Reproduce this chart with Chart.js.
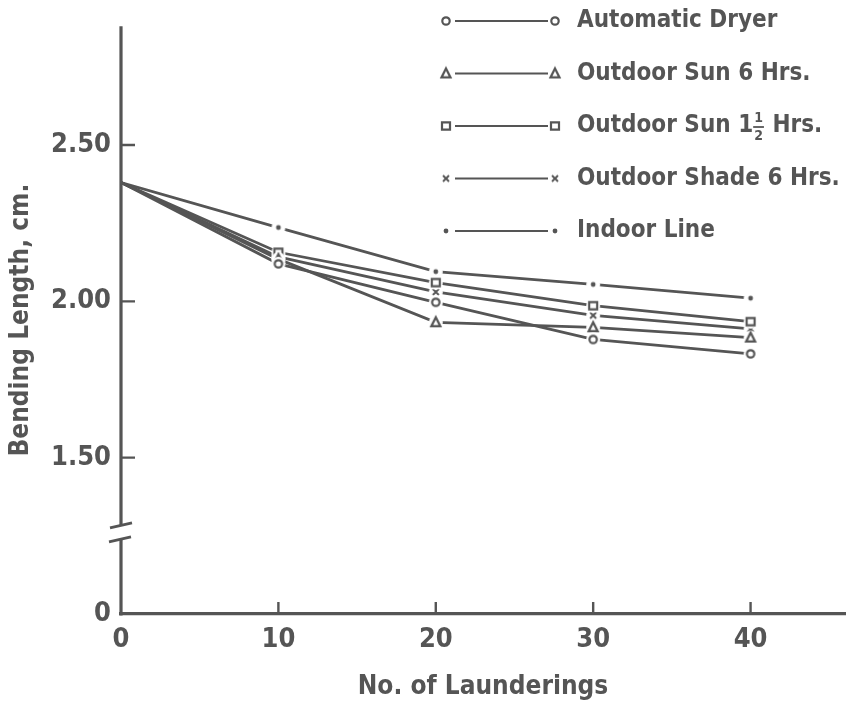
<!DOCTYPE html>
<html>
<head>
<meta charset="utf-8">
<title>Bending Length vs. Launderings</title>
<script src="https://cdn.jsdelivr.net/npm/chart.js@4/dist/chart.umd.min.js"></script>
<style>
  html, body { margin: 0; padding: 0; background: #fff; }
  #wrap { width: 853px; height: 703px; }
</style>
</head>
<body>
<div id="wrap"><canvas id="chart" width="853" height="703"></canvas></div>
<script>
// Number of launderings
const xValues = [0, 10, 20, 30, 40];

// Bending length (cm) for each drying method
const automaticDryer = [2.38, 2.12, 1.997, 1.878, 1.832];
const outdoorSun6 = [2.38, 2.135, 1.933, 1.917, 1.884];
const outdoorSun1half = [2.38, 2.157, 2.06, 1.986, 1.935];
const outdoorShade6 = [2.38, 2.142, 2.03, 1.955, 1.912];
const indoorLine = [2.38, 2.236, 2.095, 2.054, 2.01];

const seriesLabels = ['Automatic Dryer', 'Outdoor Sun 6 Hrs.', 'Outdoor Sun 1½ Hrs.', 'Outdoor Shade 6 Hrs.', 'Indoor Line'];
const seriesMarkers = ['circle', 'triangle', 'square', 'cross', 'dot'];

// Axis ticks; the lowest y tick sits at the broken-axis origin and reads 0
const xTickValues = [0, 10, 20, 30, 40];
const xTickLabels = ['0', '10', '20', '30', '40'];
const yTickValues = [1.0, 1.5, 2.0, 2.5];
const yTickLabels = ['0', '1.50', '2.00', '2.50'];
const yBreak = [1.24, 1.285];

const INK = '#555';
const FONT = "'DejaVu Sans Condensed', 'Liberation Sans Narrow', sans-serif";

// Marker sprites: a white halo so the connecting lines stop short of each symbol
function makeMarker(kind) {
  const c = document.createElement('canvas');
  c.width = 18; c.height = 18;
  const g = c.getContext('2d');
  g.fillStyle = '#fff';
  g.beginPath(); g.arc(9, 9, 7, 0, Math.PI * 2); g.fill();
  g.strokeStyle = INK; g.fillStyle = INK; g.lineWidth = 2.2;
  g.beginPath();
  if (kind === 'circle') {
    g.arc(9, 9, 3.7, 0, Math.PI * 2); g.stroke();
  } else if (kind === 'triangle') {
    g.moveTo(9, 4); g.lineTo(13.5, 12.9); g.lineTo(4.5, 12.9); g.closePath(); g.stroke();
  } else if (kind === 'square') {
    g.rect(5, 5.4, 8, 7.2); g.stroke();
  } else if (kind === 'cross') {
    g.lineWidth = 1.9;
    g.moveTo(6, 6); g.lineTo(12, 12); g.moveTo(12, 6); g.lineTo(6, 12); g.stroke();
  } else {
    g.arc(9, 9, 2.4, 0, Math.PI * 2); g.fill();
  }
  return c;
}

const allSeries = [automaticDryer, outdoorSun6, outdoorSun1half, outdoorShade6, indoorLine];
const markerImages = seriesMarkers.map(makeMarker);

const datasets = [];
allSeries.forEach((vals, i) => {
  const pts = xValues.map((x, j) => ({ x: x, y: vals[j] }));
  datasets.push({
    label: seriesLabels[i], data: pts, borderColor: INK, borderWidth: 2.8,
    pointRadius: 0, tension: 0, fill: false, order: 2
  });
  datasets.push({
    label: seriesLabels[i] + ' markers', data: pts, showLine: false,
    pointStyle: markerImages[i],
    pointRadius: (ctx) => (ctx.dataIndex === 0 ? 0 : 5),
    order: 1
  });
});

// Broken y axis, inward tick marks and the key
const decor = {
  id: 'decor',
  afterDraw(chart) {
    const ctx = chart.ctx;
    const xs = chart.scales.x, ys = chart.scales.y;
    const ax = xs.getPixelForValue(0);
    const top = chart.chartArea.top, bottom = ys.getPixelForValue(yTickValues[0]);
    const bLow = ys.getPixelForValue(yBreak[0]), bHigh = ys.getPixelForValue(yBreak[1]);
    ctx.save();
    ctx.strokeStyle = INK; ctx.lineCap = 'butt';
    ctx.lineWidth = 3.2;
    ctx.beginPath();
    ctx.moveTo(ax, top); ctx.lineTo(ax, bHigh);
    ctx.moveTo(ax, bLow); ctx.lineTo(ax, bottom + 1.5);
    ctx.stroke();
    ctx.lineWidth = 2.8;
    ctx.beginPath();
    ctx.moveTo(ax - 11, bHigh + 3); ctx.lineTo(ax + 11, bHigh - 2);
    ctx.moveTo(ax - 12, bLow + 3); ctx.lineTo(ax + 10, bLow - 2);
    ctx.stroke();
    ctx.lineWidth = 2.4;
    ctx.beginPath();
    yTickValues.slice(1).forEach(v => {
      const y = ys.getPixelForValue(v);
      ctx.moveTo(ax, y); ctx.lineTo(ax + 14, y);
    });
    xTickValues.slice(1).forEach(v => {
      const x = xs.getPixelForValue(v);
      ctx.moveTo(x, bottom); ctx.lineTo(x, bottom - 12);
    });
    ctx.stroke();

    // key
    const keyTop = 21, keyStep = 52.5;
    const mL = 446, mR = 555, textX = 577;
    ctx.fillStyle = INK;
    ctx.textBaseline = 'middle';
    seriesLabels.forEach((label, i) => {
      const y = keyTop + i * keyStep;
      ctx.lineWidth = 2.2;
      ctx.beginPath(); ctx.moveTo(mL + 9, y); ctx.lineTo(mR - 7, y); ctx.stroke();
      const img = markerImages[i];
      ctx.drawImage(img, mL - 9, y - 9);
      ctx.drawImage(img, mR - 9, y - 9);
      const parts = label.split('½');
      ctx.font = 'bold 24px ' + FONT;
      ctx.textAlign = 'left';
      ctx.fillText(parts[0], textX, y);
      if (parts.length > 1) {
        const x = textX + ctx.measureText(parts[0]).width + 1;
        ctx.font = 'bold 14px ' + FONT;
        const fw = ctx.measureText('2').width;
        ctx.textAlign = 'center';
        ctx.fillText('1', x + fw / 2, y - 8);
        ctx.fillText('2', x + fw / 2, y + 10);
        ctx.lineWidth = 1.8;
        ctx.beginPath(); ctx.moveTo(x - 1, y + 1); ctx.lineTo(x + fw + 1, y + 1); ctx.stroke();
        ctx.font = 'bold 24px ' + FONT;
        ctx.textAlign = 'left';
        ctx.fillText(parts[1], x + fw + 2, y);
      }
    });
    ctx.restore();
  }
};

new Chart(document.getElementById('chart'), {
  type: 'line',
  data: { datasets: datasets },
  options: {
    responsive: false,
    animation: false,
    events: [],
    layout: { padding: { top: 26, right: 8, left: 0, bottom: 0 } },
    plugins: { legend: { display: false }, tooltip: { enabled: false } },
    scales: {
      x: {
        type: 'linear', min: 0, max: 46,
        afterBuildTicks: (s) => { s.ticks = xTickValues.map(v => ({ value: v })); },
        afterFit: (s) => { s.height = 89; },
        grid: { display: false, drawTicks: false },
        border: { display: true, color: INK, width: 3.2 },
        ticks: {
          color: INK, padding: 10, maxRotation: 0,
          font: { family: FONT, size: 27, weight: 'bold' },
          callback: (v) => xTickLabels[xTickValues.indexOf(v)]
        },
        title: {
          display: true, text: 'No. of Launderings', color: INK,
          font: { family: FONT, size: 26, weight: 'bold' }, padding: { top: 0, bottom: 0 }
        }
      },
      y: {
        type: 'linear', min: 1.0, max: 2.88,
        afterBuildTicks: (s) => { s.ticks = yTickValues.map(v => ({ value: v })); },
        afterFit: (s) => { s.width = 121; },
        grid: { display: false, drawTicks: false },
        border: { display: false },
        ticks: {
          color: INK, padding: 10,
          font: { family: FONT, size: 27, weight: 'bold' },
          callback: (v) => yTickLabels[yTickValues.indexOf(v)]
        },
        title: {
          display: true, text: 'Bending Length, cm.', color: INK,
          font: { family: FONT, size: 26, weight: 'bold' }, padding: { top: 6, bottom: 0 }
        }
      }
    }
  },
  plugins: [decor]
});
</script>
</body>
</html>
